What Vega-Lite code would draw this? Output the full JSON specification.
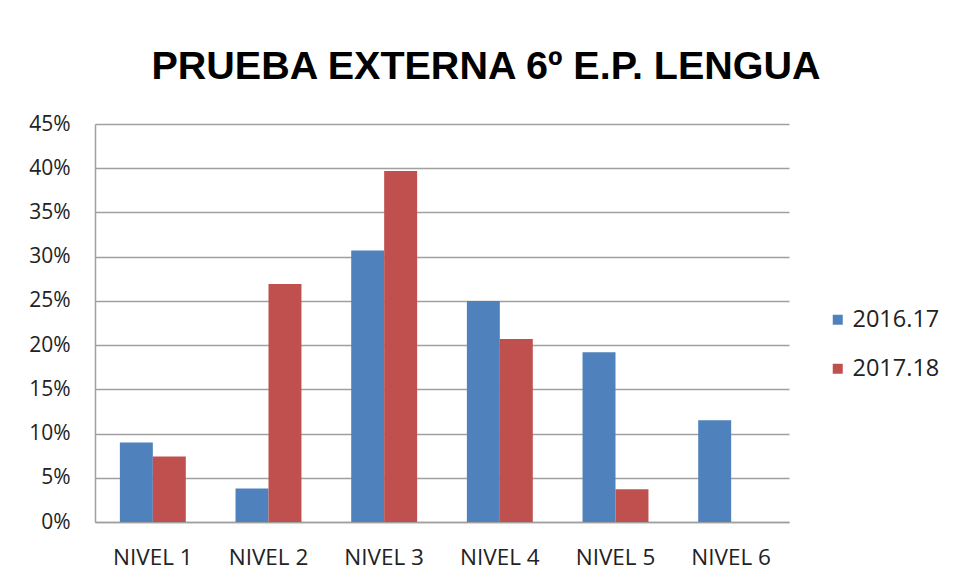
{
  "$schema": "https://vega.github.io/schema/vega-lite/v6.json",
  "autosize": "none",
  "width": 694,
  "height": 398,
  "padding": {"left": 95, "top": 124, "right": 167, "bottom": 59},
  "background": "white",
  "title": {
    "text": "PRUEBA EXTERNA 6º E.P. LENGUA",
    "font": "Liberation Sans",
    "fontWeight": "bold",
    "fontSize": 39.5,
    "color": "#000000",
    "anchor": "middle",
    "frame": "group",
    "dx": 44,
    "baseline": "alphabetic",
    "offset": -5
  },
  "data": {
    "values": [
      {"nivel": "NIVEL 1", "curso": "2016.17", "pct": 0.09},
      {"nivel": "NIVEL 1", "curso": "2017.18", "pct": 0.074},
      {"nivel": "NIVEL 2", "curso": "2016.17", "pct": 0.038},
      {"nivel": "NIVEL 2", "curso": "2017.18", "pct": 0.269},
      {"nivel": "NIVEL 3", "curso": "2016.17", "pct": 0.307},
      {"nivel": "NIVEL 3", "curso": "2017.18", "pct": 0.397},
      {"nivel": "NIVEL 4", "curso": "2016.17", "pct": 0.25},
      {"nivel": "NIVEL 4", "curso": "2017.18", "pct": 0.207},
      {"nivel": "NIVEL 5", "curso": "2016.17", "pct": 0.192},
      {"nivel": "NIVEL 5", "curso": "2017.18", "pct": 0.037},
      {"nivel": "NIVEL 6", "curso": "2016.17", "pct": 0.115},
      {"nivel": "NIVEL 6", "curso": "2017.18", "pct": 0.0}
    ]
  },
  "mark": {"type": "bar"},
  "encoding": {
    "x": {
      "field": "nivel",
      "type": "nominal",
      "sort": null,
      "title": null,
      "scale": {"paddingInner": 0.43, "paddingOuter": 0.215},
      "axis": {
        "labelAngle": 0,
        "labelFont": "Open Sans",
        "labelFontSize": 22.5,
        "labelColor": "#222222",
        "labelPadding": 24,
        "ticks": false,
        "domainColor": "#a0a0a0",
        "domainWidth": 1.5,
        "grid": false
      }
    },
    "xOffset": {"field": "curso", "type": "nominal", "scale": {"padding": 0}},
    "y": {
      "field": "pct",
      "type": "quantitative",
      "title": null,
      "scale": {"domain": [0, 0.45], "nice": false},
      "axis": {
        "values": [0, 0.05, 0.1, 0.15, 0.2, 0.25, 0.3, 0.35, 0.4, 0.45],
        "format": ".0%",
        "labelFont": "Open Sans",
        "labelFontSize": 21,
        "labelColor": "#222222",
        "labelPadding": 25,
        "ticks": false,
        "domainColor": "#a0a0a0",
        "domainWidth": 1.5,
        "gridColor": "#a0a0a0",
        "gridWidth": 1.5
      }
    },
    "color": {
      "field": "curso",
      "type": "nominal",
      "title": null,
      "scale": {"domain": ["2016.17", "2017.18"], "range": ["#4F81BD", "#C0504D"]},
      "legend": {
        "orient": "none",
        "legendX": 731,
        "legendY": 184,
        "symbolType": "square",
        "symbolSize": 100,
        "symbolStrokeWidth": 0,
        "labelFont": "Open Sans",
        "labelFontSize": 23.5,
        "labelColor": "#222222",
        "labelOffset": 3,
        "rowPadding": 24
      }
    }
  },
  "config": {
    "view": {"stroke": null}
  }
}
